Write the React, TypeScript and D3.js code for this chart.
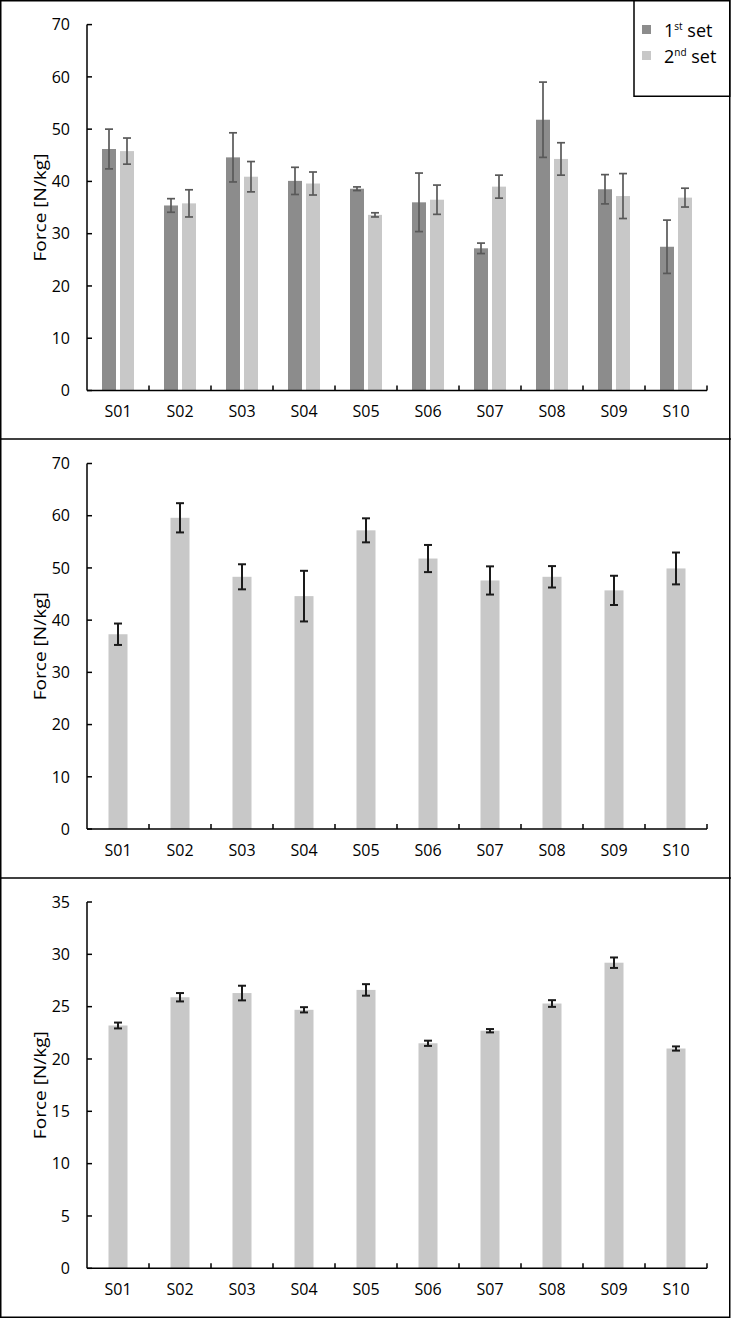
import React from "react";
import * as d3 from "d3";

const subjects = ["S01", "S02", "S03", "S04", "S05", "S06", "S07", "S08", "S09", "S10"];

// Panel 1 (two sets)
const set1Mean = [46.2, 35.4, 44.6, 40.1, 38.6, 36.0, 27.2, 51.8, 38.5, 27.5];
const set1Err = [3.8, 1.3, 4.7, 2.6, 0.35, 5.6, 1.0, 7.2, 2.8, 5.1];
const set2Mean = [45.8, 35.8, 40.9, 39.6, 33.6, 36.5, 39.0, 44.3, 37.2, 36.9];
const set2Err = [2.5, 2.6, 2.9, 2.2, 0.4, 2.8, 2.2, 3.1, 4.3, 1.8];

// Panel 2
const p2Mean = [37.3, 59.6, 48.3, 44.6, 57.2, 51.8, 47.6, 48.3, 45.7, 49.9];
const p2Err = [2.05, 2.8, 2.4, 4.85, 2.3, 2.6, 2.7, 2.05, 2.8, 3.05];

// Panel 3
const p3Mean = [23.2, 25.9, 26.3, 24.7, 26.6, 21.5, 22.7, 25.3, 29.2, 21.0];
const p3Err = [0.28, 0.4, 0.7, 0.25, 0.55, 0.25, 0.16, 0.32, 0.5, 0.2];

const ticks1 = [0, 10, 20, 30, 40, 50, 60, 70];
const ticks3 = [0, 5, 10, 15, 20, 25, 30, 35];

const FONT = "'Open Sans', 'Noto Sans', sans-serif";
const DARK = "#8c8c8c";
const LIGHT = "#c8c8c8";

type Series = { mean: number[]; err: number[]; color: string; errColor: string; errWidth: number };

function Panel({
  series,
  yMax,
  ticks,
  top,
  bottom,
  barWidth,
  gap,
}: {
  series: Series[];
  yMax: number;
  ticks: number[];
  top: number;
  bottom: number;
  barWidth: number;
  gap: number;
}) {
  const x = d3.scaleBand<string>().domain(subjects).range([87, 707]).padding(0);
  const y = d3.scaleLinear().domain([0, yMax]).range([bottom, top]);
  const n = series.length;
  const groupW = n * barWidth + (n - 1) * gap;
  const cap = 4;
  return (
    <g>
      {series.map((s, si) =>
        subjects.map((sub, i) => {
          const cx = (x(sub) as number) + x.bandwidth() / 2;
          const bx = cx - groupW / 2 + si * (barWidth + gap);
          const mid = bx + barWidth / 2;
          const v = s.mean[i];
          const e = s.err[i];
          return (
            <g key={`${si}-${sub}`}>
              <rect x={bx} y={y(v)} width={barWidth} height={y(0) - y(v)} fill={s.color} />
              <g stroke={s.errColor} strokeWidth={s.errWidth} fill="none">
                <line x1={mid} x2={mid} y1={y(v + e)} y2={y(v - e)} />
                <line x1={mid - cap} x2={mid + cap} y1={y(v + e)} y2={y(v + e)} />
                <line x1={mid - cap} x2={mid + cap} y1={y(v - e)} y2={y(v - e)} />
              </g>
            </g>
          );
        })
      )}
      {/* y axis */}
      <line x1={87} x2={87} y1={y(yMax)} y2={y(0)} stroke="#000" strokeWidth={1.5} />
      {ticks.map((t) => (
        <g key={t}>
          <line x1={87} x2={92} y1={y(t)} y2={y(t)} stroke="#000" strokeWidth={1.5} />
          <text x={70} y={y(t)} dy="0.36em" textAnchor="end" fontFamily={FONT} fontSize={16} fill="#000">
            {t}
          </text>
        </g>
      ))}
      {/* x axis */}
      <line x1={87} x2={707} y1={y(0)} y2={y(0)} stroke="#000" strokeWidth={1.5} />
      {subjects.map((sub) => {
        const xr = (x(sub) as number) + x.bandwidth();
        return (
          <line key={"t" + sub} x1={xr} x2={xr} y1={y(0)} y2={y(0) - 5} stroke="#000" strokeWidth={1.5} />
        );
      })}
      {subjects.map((sub) => (
        <text
          key={"l" + sub}
          x={(x(sub) as number) + x.bandwidth() / 2}
          y={y(0) + 21}
          dy="0.36em"
          textAnchor="middle"
          fontFamily={FONT}
          fontSize={16}
          fill="#000"
        >
          {sub}
        </text>
      ))}
      <text
        transform={`translate(46,${(top + bottom) / 2}) rotate(-90)`}
        textAnchor="middle"
        fontFamily={FONT}
        fontSize={16}
        textLength={108}
        lengthAdjust="spacingAndGlyphs"
        fill="#000"
      >
        Force [N/kg]
      </text>
    </g>
  );
}

export default function App() {
  return (
    <svg
      width={731}
      height={1319}
      style={{ position: "absolute", left: 0, top: 0, background: "#fff" }}
    >
      <rect x={0} y={0} width={731} height={1319} fill="#fff" />
      <Panel
        series={[
          { mean: set1Mean, err: set1Err, color: DARK, errColor: "#595959", errWidth: 1.7 },
          { mean: set2Mean, err: set2Err, color: LIGHT, errColor: "#595959", errWidth: 1.7 },
        ]}
        yMax={70}
        ticks={ticks1}
        top={24.6}
        bottom={390.5}
        barWidth={14}
        gap={4}
      />
      <Panel
        series={[{ mean: p2Mean, err: p2Err, color: LIGHT, errColor: "#1a1a1a", errWidth: 2 }]}
        yMax={70}
        ticks={ticks1}
        top={463.5}
        bottom={829}
        barWidth={19}
        gap={0}
      />
      <Panel
        series={[{ mean: p3Mean, err: p3Err, color: LIGHT, errColor: "#1a1a1a", errWidth: 2 }]}
        yMax={35}
        ticks={ticks3}
        top={902}
        bottom={1268.3}
        barWidth={19}
        gap={0}
      />
      {/* panel borders */}
      <rect x={0.75} y={0.75} width={729} height={1316.5} fill="none" stroke="#000" strokeWidth={1.5} />
      <line x1={0} x2={731} y1={439} y2={439} stroke="#000" strokeWidth={1.5} />
      <line x1={0} x2={731} y1={878} y2={878} stroke="#000" strokeWidth={1.5} />
      {/* legend */}
      <rect x={634} y={0.75} width={95.75} height={95.5} fill="#fff" stroke="#000" strokeWidth={1.5} />
      <rect x={642} y={25} width={9} height={9} fill={DARK} />
      <text x={664} y={37} fontFamily={FONT} fontSize={18} fill="#000">
        1<tspan fontSize={10} dy={-7}>st</tspan>
        <tspan dy={7}> set</tspan>
      </text>
      <rect x={642} y={51} width={9} height={9} fill={LIGHT} />
      <text x={664} y={63} fontFamily={FONT} fontSize={18} fill="#000">
        2<tspan fontSize={10} dy={-7}>nd</tspan>
        <tspan dy={7}> set</tspan>
      </text>
    </svg>
  );
}
